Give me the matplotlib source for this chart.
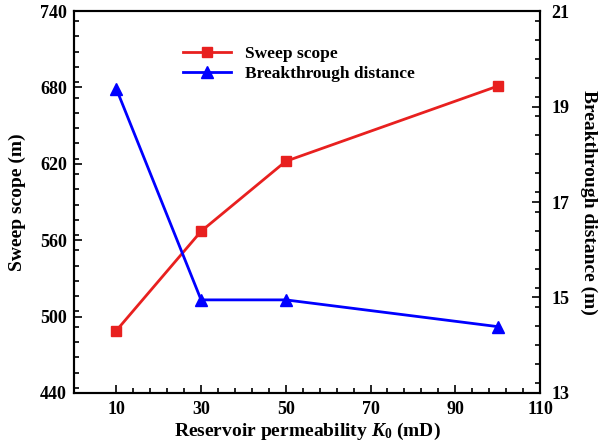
import numpy as np
import matplotlib
matplotlib.use('Agg')
import matplotlib.pyplot as plt
from matplotlib.ticker import FixedLocator, MultipleLocator

plt.rcParams['font.family'] = 'Liberation Serif'
plt.rcParams['font.weight'] = 'bold'
plt.rcParams['mathtext.fontset'] = 'custom'
plt.rcParams['mathtext.it'] = 'Liberation Serif:italic:bold'
plt.rcParams['mathtext.rm'] = 'Liberation Serif:bold'

# permeability values (mD)
permeability = [10, 30, 50, 100]
sweep_scope = [489, 567, 622, 681]
breakthrough = [19.37, 14.95, 14.95, 14.39]

red = '#e8201f'
blue = '#0000ff'

fig = plt.figure(figsize=(6, 4.48), dpi=100)
ax = fig.add_axes([0.1233, 0.1228, 0.7767, 0.8526])
ax2 = ax.twinx()

l1, = ax.plot(permeability, sweep_scope, color=red, lw=2, marker='s',
              ms=6.5, label='Sweep scope')
l2, = ax2.plot(permeability, breakthrough, color=blue, lw=2, marker='^',
               ms=8.5, label='Breakthrough distance')

ax.set_xlim(0, 110)
ax.set_ylim(440, 740)
ax2.set_ylim(13, 21)

ax.set_xticks([10, 30, 50, 70, 90, 110])
ax.xaxis.set_minor_locator(FixedLocator([v for v in np.arange(14, 110, 4) if (v - 10) % 20]))
ax.set_yticks(np.arange(440, 741, 60))
ax.yaxis.set_minor_locator(MultipleLocator(12))
ax2.set_yticks(np.arange(13, 22, 2))
ax2.yaxis.set_minor_locator(MultipleLocator(0.4))

for a in (ax, ax2):
    a.tick_params(which='both', direction='in', labelsize=13, width=1.2)
    a.tick_params(which='major', length=6)
    a.tick_params(which='minor', length=3.5)
    for s in a.spines.values():
        s.set_linewidth(1.5)
ax.tick_params(axis='x', pad=6)
ax.tick_params(axis='y', which='both', right=False, pad=5)
ax2.tick_params(axis='y', which='both', left=False, pad=8)

ax.set_xlabel('Reservoir permeability $K_0$ (mD)', fontsize=14, fontweight='bold',
              labelpad=2)
ax.set_ylabel('Sweep scope (m)', fontsize=14, fontweight='bold', labelpad=10)
ax2.set_ylabel('Breakthrough distance (m)', fontsize=14, fontweight='bold',
               rotation=270, labelpad=20)

ax.legend(handles=[l1, l2], loc='upper left', bbox_to_anchor=(0.2, 0.95),
          frameon=False, handlelength=2.8, labelspacing=0.25,
          handletextpad=0.8, prop={'weight': 'bold', 'size': 12.5})

fig.savefig('out.png', dpi=100)
